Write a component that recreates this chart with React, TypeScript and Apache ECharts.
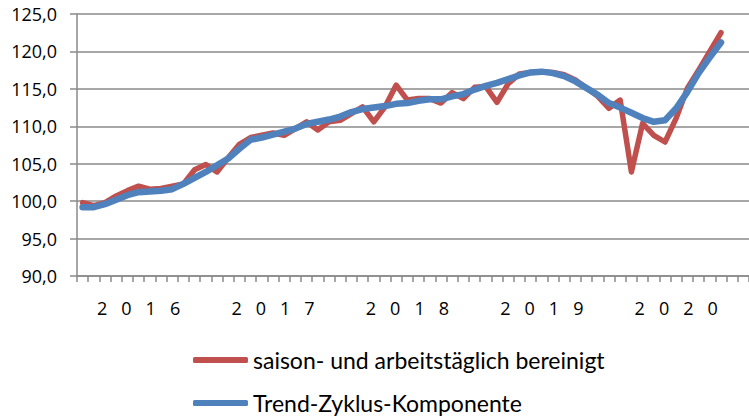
import React, { useEffect, useRef } from "react";
import * as echarts from "echarts";

const years = ["2016", "2017", "2018", "2019", "2020"];
const monthNums = ["01", "02", "03", "04", "05", "06", "07", "08", "09", "10", "11", "12"];
const categories = years.flatMap((y) => monthNums.map((m) => `${y}-${m}`));

const seriesNames = ["saison- und arbeitstäglich bereinigt", "Trend-Zyklus-Komponente"];

const bereinigt = [
  99.8, 99.4, 99.8, 100.7, 101.4, 102.0, 101.6, 101.7, 102.0, 102.3, 104.2, 104.9,
  103.9, 105.8, 107.6, 108.5, 108.8, 109.1, 108.8, 109.7, 110.6, 109.5, 110.6, 110.8,
  111.7, 112.6, 110.6, 112.6, 115.5, 113.5, 113.7, 113.7, 113.1, 114.5, 113.7, 115.2,
  115.3, 113.2, 115.7, 117.0, 117.2, 117.3, 117.2, 116.9, 116.2, 115.1, 114.0, 112.4,
  113.5, 103.9, 110.4, 108.8, 107.9, 111.1, 115.1, 117.5, 120.0, 122.5,
];

const trend = [
  99.2, 99.2, 99.6, 100.2, 100.8, 101.2, 101.3, 101.4, 101.6, 102.3, 103.1, 103.9,
  104.8, 105.7, 107.0, 108.2, 108.5, 108.9, 109.3, 109.7, 110.3, 110.6, 110.9, 111.3,
  111.9, 112.3, 112.5, 112.7, 113.0, 113.1, 113.4, 113.6, 113.6, 114.0, 114.3, 114.9,
  115.4, 115.8, 116.3, 116.8, 117.2, 117.3, 117.1, 116.7, 116.0, 115.1, 114.2, 113.1,
  112.5, 111.8, 111.1, 110.6, 110.8, 112.4, 114.6, 117.1, 119.2, 121.2,
];

const yMin = 90;
const yMax = 125;
const yStep = 5;

const GRAY = "#8a8a8a";

export default function App() {
  const ref = useRef<HTMLDivElement>(null);
  useEffect(() => {
    if (!ref.current) return;
    const chart = echarts.init(ref.current, undefined, { renderer: "svg" });
    chart.setOption({
      animation: false,
      backgroundColor: "#ffffff",
      grid: { left: 77, top: 14, right: -5, bottom: 140, containLabel: false },
      legend: {
        orient: "vertical",
        left: 193,
        top: 348,
        padding: 0,
        height: 100,
        itemWidth: 55,
        itemHeight: 6,
        itemGap: 19,
        icon: "roundRect",
        textStyle: { fontFamily: "Lato", fontSize: 23, color: "#000", lineHeight: 24 },
        data: seriesNames,
      },
      xAxis: {
        type: "category",
        data: categories,
        boundaryGap: true,
        axisLine: { show: true, lineStyle: { color: GRAY, width: 1.5 } },
        axisTick: { show: true, interval: 0, length: 6, lineStyle: { color: GRAY, width: 1.5 } },
        axisLabel: {
          interval: (index: number) => index % 12 === 5,
          formatter: (v: string) => v.slice(0, 4).split("").join("   "),
          margin: 23,
          fontFamily: "Open Sans",
          fontSize: 18,
          color: "#000",
        },
        splitLine: { show: false },
      },
      yAxis: {
        type: "value",
        min: yMin,
        max: yMax,
        interval: yStep,
        axisLine: { show: true, lineStyle: { color: GRAY, width: 1.5 } },
        axisTick: { show: true, length: 7, lineStyle: { color: GRAY, width: 1.5 } },
        axisLabel: {
          formatter: (v: number) => v.toFixed(1).replace(".", ","),
          margin: 20,
          fontFamily: "Open Sans",
          fontSize: 18,
          color: "#000",
        },
        splitLine: { show: true, lineStyle: { color: GRAY, width: 1.5 } },
      },
      series: [
        {
          name: seriesNames[0],
          type: "line",
          data: bereinigt,
          showSymbol: false,
          symbol: "none",
          color: "#C0504D",
          lineStyle: { color: "#C0504D", width: 5.5, join: "round", cap: "round" },
          z: 2,
        },
        {
          name: seriesNames[1],
          type: "line",
          data: trend,
          showSymbol: false,
          symbol: "none",
          color: "#4F81BD",
          lineStyle: { color: "#4F81BD", width: 6.5, join: "round", cap: "round" },
          z: 3,
        },
      ],
    });
    return () => chart.dispose();
  }, []);
  return (
    <div
      ref={ref}
      style={{ position: "fixed", left: 0, top: 0, width: 749, height: 416 }}
    />
  );
}
